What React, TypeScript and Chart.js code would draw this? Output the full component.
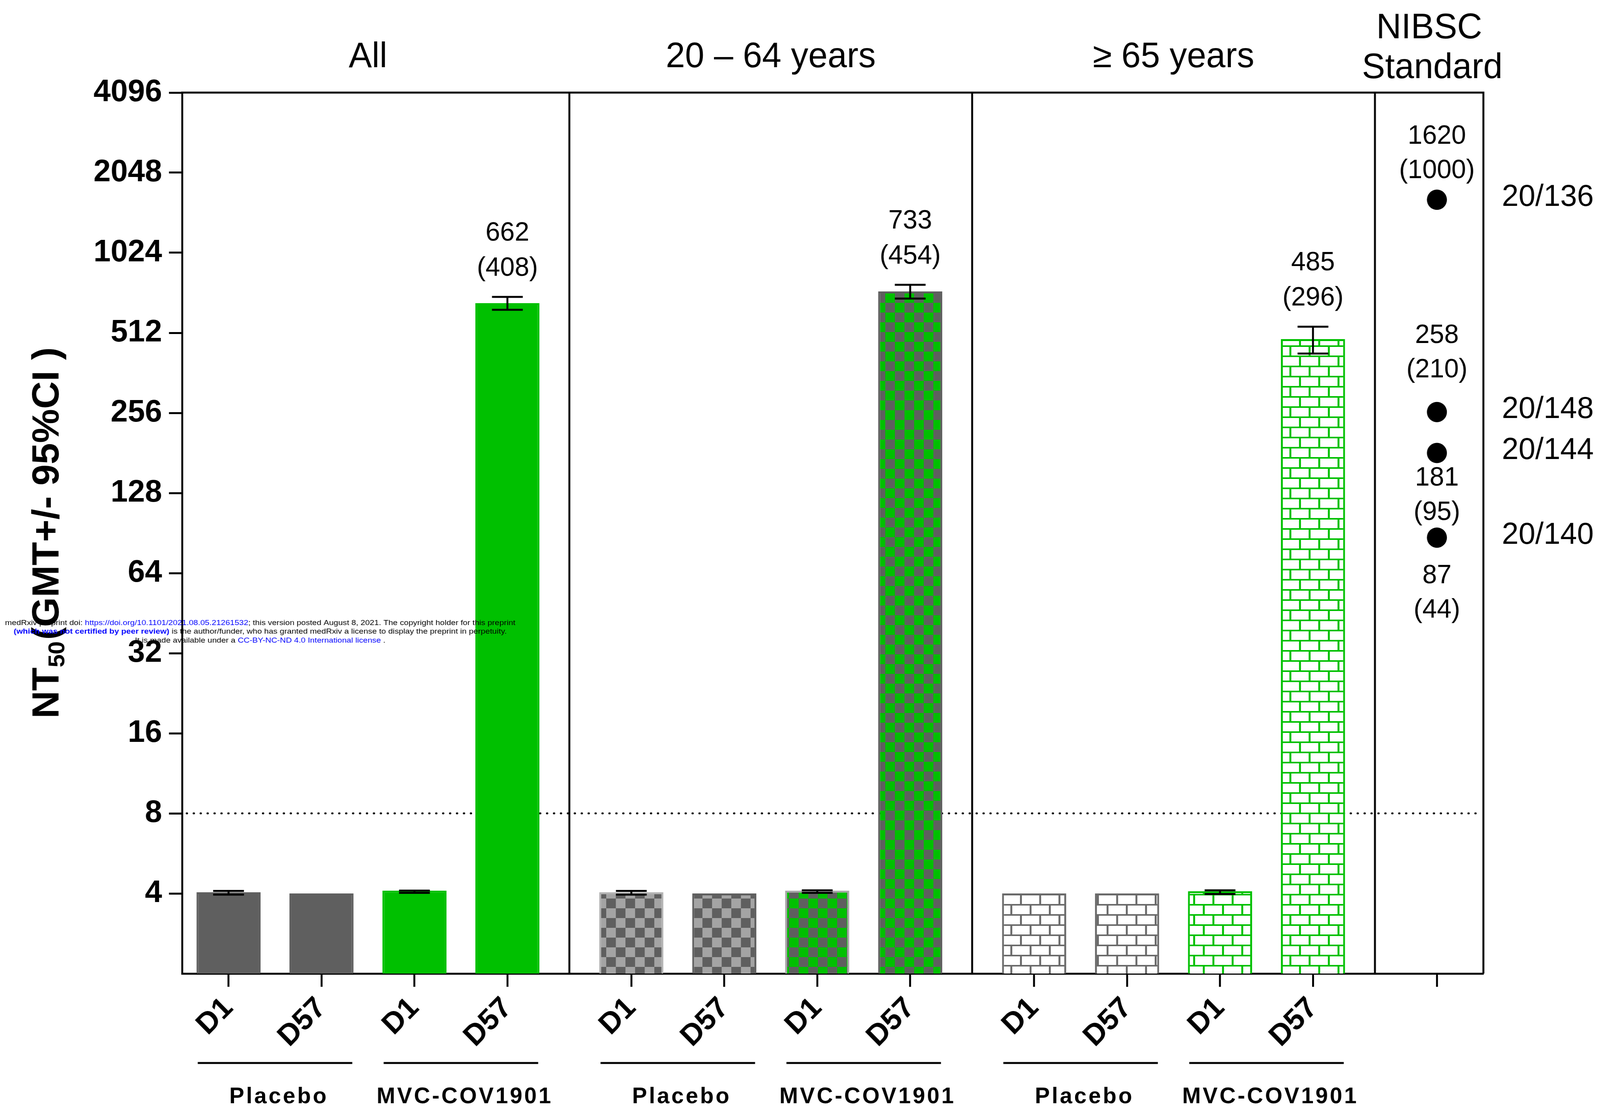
import React, { useEffect, useRef } from 'react';
import { Chart, registerables } from 'chart.js';

Chart.register(...registerables);

// ---------------- data ----------------
const GROUPS = ['All', '20 – 64 years', '≥ 65 years'];
const DAYS = ['D1', 'D57', 'D1', 'D57'];
const ARMS = ['Placebo', 'MVC-COV1901'];

const GMT_ALL = [4.04, 4.0, 4.1, 662];
const GMT_20_64 = [4.04, 4.0, 4.1, 733];
const GMT_65 = [4.0, 4.0, 4.08, 485];

const CI_LOW_ALL = [3.96, null, 4.02, 625];
const CI_HIGH_ALL = [4.09, null, 4.1, 699];
const CI_LOW_20_64 = [3.96, null, 4.02, 689];
const CI_HIGH_20_64 = [4.09, null, 4.11, 776];
const CI_LOW_65 = [null, null, 3.98, 428];
const CI_HIGH_65 = [null, null, 4.11, 540];

const D57_PAREN = ['(408)', '(454)', '(296)'];

const NIBSC_NAMES = ['20/136', '20/148', '20/144', '20/140'];
const NIBSC_VALUES = [1620, 258, 181, 87];
const NIBSC_PAREN = ['(1000)', '(210)', '(95)', '(44)'];

const Y_TICKS = [4, 8, 16, 32, 64, 128, 256, 512, 1024, 2048, 4096];
const Y_MIN = 2;
const Y_MAX = 4096;
const THRESHOLD = 8;

const Y_TITLE_MAIN = 'NT';
const Y_TITLE_SUB = '50';
const Y_TITLE_REST = '(GMT+/- 95%CI )';
const NIBSC_HEADER = ['NIBSC', 'Standard'];

const WATERMARK: [string, string, boolean][][] = [
  [
    ['medRxiv preprint doi: ', '#000', false],
    ['https://doi.org/10.1101/2021.08.05.21261532', '#0000ff', false],
    ['; this version posted August 8, 2021. The copyright holder for this preprint', '#000', false],
  ],
  [
    ['(which was not certified by peer review)', '#0000ff', true],
    [' is the author/funder, who has granted medRxiv a license to display the preprint in perpetuity.', '#000', false],
  ],
  [
    ['It is made available under a ', '#000', false],
    ['CC-BY-NC-ND 4.0 International license', '#0000ff', false],
    [' .', '#000', false],
  ],
];

// ---------------- layout / style ----------------
const W = 4157;
const H = 2849;
const L = {
  left: 473,
  right: 3854,
  top: 237,
  bottom: 2492,
  groupSpan: 13,
  barStep: 3,
  firstBar: 1.5,
  xMax: 42,
};
const FONT = '"Liberation Sans", Arial, Helvetica, sans-serif';
const GRAY = '#5f5f5f';
const LIGHT = '#a4a4a4';
const GREEN = '#00c000';
const BRICK_GRAY = '#6a6a6a';
const NIBSC_LABEL_DY = [-162, -195, 65, 98];

const xOf = (g: number, i: number) => g * L.groupSpan + L.firstBar + i * L.barStep;

const GMT = [GMT_ALL, GMT_20_64, GMT_65];
const CI_LOW = [CI_LOW_ALL, CI_LOW_20_64, CI_LOW_65];
const CI_HIGH = [CI_HIGH_ALL, CI_HIGH_20_64, CI_HIGH_65];

const BAR_X: number[] = [];
const BAR_POINTS: { x: number; y: number }[] = [];
const BAR_LOW: (number | null)[] = [];
const BAR_HIGH: (number | null)[] = [];
GROUPS.forEach((_, g) => {
  DAYS.forEach((__, i) => {
    BAR_X.push(xOf(g, i));
    BAR_POINTS.push({ x: xOf(g, i), y: GMT[g][i] });
    BAR_LOW.push(CI_LOW[g][i]);
    BAR_HIGH.push(CI_HIGH[g][i]);
  });
});
const NIBSC_X = xOf(GROUPS.length, 0);
const X_TICKS = [...BAR_X, NIBSC_X];
const X_TICK_LABELS = [...GROUPS.flatMap(() => DAYS), ''];

function checker(ctx: CanvasRenderingContext2D, a: string, b: string) {
  const s = 25;
  const t = document.createElement('canvas');
  t.width = s * 2;
  t.height = s * 2;
  const c = t.getContext('2d')!;
  c.fillStyle = a;
  c.fillRect(0, 0, s * 2, s * 2);
  c.fillStyle = b;
  c.fillRect(s, 0, s, s);
  c.fillRect(0, s, s, s);
  return ctx.createPattern(t, 'repeat')!;
}

function brick(ctx: CanvasRenderingContext2D, color: string) {
  const w = 50;
  const h = 26;
  const t = document.createElement('canvas');
  t.width = w;
  t.height = h * 2;
  const c = t.getContext('2d')!;
  c.fillStyle = '#fff';
  c.fillRect(0, 0, w, h * 2);
  c.fillStyle = color;
  c.fillRect(0, 0, w, 4);
  c.fillRect(0, 0, 5, h);
  c.fillRect(0, h, w, 4);
  c.fillRect(w / 2, h, 5, h);
  return ctx.createPattern(t, 'repeat')!;
}

function drawWatermark(ctx: CanvasRenderingContext2D) {
  const cx = 676;
  const ys = [1595, 1617, 1640];
  const widths = [1326, 1281, 651];
  WATERMARK.forEach((segs, li) => {
    let total = 0;
    const ws = segs.map(([t, , b]) => {
      ctx.font = `${b ? 'bold ' : ''}18px ${FONT}`;
      const m = ctx.measureText(t).width;
      total += m;
      return m;
    });
    const f = widths[li] / total;
    ctx.save();
    ctx.translate(cx - widths[li] / 2, ys[li]);
    ctx.scale(f, 1);
    ctx.textBaseline = 'middle';
    ctx.textAlign = 'left';
    let x = 0;
    segs.forEach(([t, col, b], i) => {
      ctx.font = `${b ? 'bold ' : ''}18px ${FONT}`;
      ctx.fillStyle = col;
      ctx.fillText(t, x, 0);
      x += ws[i];
    });
    ctx.restore();
  });
}

const overlay = {
  id: 'overlay',
  beforeDatasetsDraw(chart: any) {
    const { ctx, chartArea: a, scales } = chart;
    const yy = scales.y.getPixelForValue(THRESHOLD);
    ctx.save();
    ctx.strokeStyle = '#000';
    ctx.lineWidth = 5;
    ctx.lineCap = 'round';
    ctx.setLineDash([1, 17]);
    ctx.beginPath();
    ctx.moveTo(a.left + 12, yy);
    ctx.lineTo(a.right - 4, yy);
    ctx.stroke();
    ctx.restore();
  },
  afterDatasetsDraw(chart: any) {
    const { ctx, chartArea: a, scales } = chart;
    const xs = scales.x;
    const ys = scales.y;
    ctx.save();
    ctx.strokeStyle = '#000';
    ctx.lineWidth = 5;
    ctx.lineCap = 'butt';
    ctx.beginPath();
    ctx.moveTo(a.left - 2.5, a.top);
    ctx.lineTo(a.right + 2.5, a.top);
    ctx.moveTo(a.right, a.top);
    ctx.lineTo(a.right, a.bottom);
    for (let g = 0; g < GROUPS.length; g++) {
      const px = xs.getPixelForValue(g * L.groupSpan + L.firstBar + (DAYS.length - 1) * L.barStep + 2);
      ctx.moveTo(px, a.top);
      ctx.lineTo(px, a.bottom);
    }
    ctx.stroke();

    const meta = chart.getDatasetMeta(0);
    meta.data.forEach((el: any, i: number) => {
      const lo = BAR_LOW[i];
      const hi = BAR_HIGH[i];
      if (lo == null || hi == null) return;
      const y1 = ys.getPixelForValue(hi);
      const y2 = ys.getPixelForValue(lo);
      ctx.beginPath();
      ctx.moveTo(el.x, y1);
      ctx.lineTo(el.x, y2);
      ctx.moveTo(el.x - 40, y1);
      ctx.lineTo(el.x + 40, y1);
      ctx.moveTo(el.x - 40, y2);
      ctx.lineTo(el.x + 40, y2);
      ctx.stroke();
    });

    ctx.fillStyle = '#000';
    ctx.textAlign = 'center';
    ctx.textBaseline = 'middle';
    ctx.font = `68px ${FONT}`;
    GROUPS.forEach((_, g) => {
      const idx = g * DAYS.length + DAYS.length - 1;
      const el = meta.data[idx];
      const capY = ys.getPixelForValue(BAR_HIGH[idx] as number);
      ctx.fillText(String(GMT[g][DAYS.length - 1]), el.x, capY - 163);
      ctx.fillText(D57_PAREN[g], el.x, capY - 73);
    });

    const nx = xs.getPixelForValue(NIBSC_X);
    NIBSC_VALUES.forEach((v, i) => {
      const py = ys.getPixelForValue(v);
      const dy = NIBSC_LABEL_DY[i];
      ctx.fillText(String(v), nx, py + dy);
      ctx.fillText(NIBSC_PAREN[i], nx, py + dy + 88);
    });
    ctx.restore();
  },
  afterDraw(chart: any) {
    const { ctx, chartArea: a, scales } = chart;
    const xs = scales.x;
    const ys = scales.y;
    ctx.save();
    ctx.fillStyle = '#000';

    ctx.textAlign = 'center';
    ctx.textBaseline = 'alphabetic';
    ctx.font = `90px ${FONT}`;
    GROUPS.forEach((name, g) => {
      const mid = xs.getPixelForValue(xOf(g, (DAYS.length - 1) / 2));
      ctx.fillText(name, mid, 172);
    });
    const nx = xs.getPixelForValue(NIBSC_X);
    ctx.fillText(NIBSC_HEADER[0], nx - 20, 98);
    ctx.fillText(NIBSC_HEADER[1], nx - 12, 200);

    ctx.textAlign = 'left';
    ctx.textBaseline = 'middle';
    ctx.font = `78px ${FONT}`;
    NIBSC_NAMES.forEach((n, i) => {
      ctx.fillText(n, a.right + 48, ys.getPixelForValue(NIBSC_VALUES[i]) - 6);
    });

    ctx.strokeStyle = '#000';
    ctx.lineWidth = 5;
    GROUPS.forEach((_, g) => {
      ARMS.forEach((arm, k) => {
        const x1 = xs.getPixelForValue(xOf(g, k * 2)) - 80;
        const x2 = xs.getPixelForValue(xOf(g, k * 2 + 1)) + 80;
        ctx.beginPath();
        ctx.moveTo(x1, 2721);
        ctx.lineTo(x2, 2721);
        ctx.stroke();
        ctx.font = `bold 58px ${FONT}`;
        (ctx as any).letterSpacing = '5px';
        ctx.textAlign = 'center';
        ctx.textBaseline = 'alphabetic';
        ctx.fillText(arm, (x1 + x2) / 2 + 10, 2824);
        (ctx as any).letterSpacing = '0px';
      });
    });

    ctx.save();
    ctx.translate(152, 1839);
    ctx.rotate(-Math.PI / 2);
    ctx.textAlign = 'left';
    ctx.textBaseline = 'alphabetic';
    ctx.font = `bold 98px ${FONT}`;
    ctx.fillText(Y_TITLE_MAIN, 0, 0);
    let tx = ctx.measureText(Y_TITLE_MAIN).width;
    ctx.font = `bold 60px ${FONT}`;
    ctx.fillText(Y_TITLE_SUB, tx, 15);
    tx += ctx.measureText(Y_TITLE_SUB).width + 4;
    ctx.font = `bold 98px ${FONT}`;
    ctx.fillText(Y_TITLE_REST, tx, 0);
    ctx.restore();

    drawWatermark(ctx);
    ctx.restore();
  },
};

export default function App() {
  const ref = useRef<HTMLCanvasElement>(null);
  useEffect(() => {
    document.body.style.margin = '0';
    document.body.style.overflow = 'hidden';
    const canvas = ref.current!;
    const c2d = canvas.getContext('2d')!;

    const fills: any[] = [
      GRAY, GRAY, GREEN, GREEN,
      checker(c2d, LIGHT, GRAY), checker(c2d, LIGHT, GRAY), checker(c2d, GREEN, GRAY), checker(c2d, GREEN, GRAY),
      brick(c2d, BRICK_GRAY), brick(c2d, BRICK_GRAY), brick(c2d, GREEN), brick(c2d, GREEN),
    ];
    const borders = [
      GRAY, GRAY, GREEN, GREEN,
      '#b3b3b3', GRAY, '#a8a8a8', GRAY,
      BRICK_GRAY, BRICK_GRAY, GREEN, GREEN,
    ];

    const chart = new Chart(canvas, {
      type: 'bar',
      data: {
        datasets: [
          {
            type: 'bar',
            data: BAR_POINTS as any,
            backgroundColor: fills,
            borderColor: borders,
            borderWidth: 5,
            barPercentage: 0.69,
            categoryPercentage: 1,
          } as any,
          {
            type: 'scatter',
            data: NIBSC_VALUES.map((v) => ({ x: NIBSC_X, y: v })),
            pointRadius: 26,
            pointBackgroundColor: '#000',
            pointBorderWidth: 0,
            backgroundColor: '#000',
            borderColor: '#000',
          } as any,
        ],
      },
      options: {
        responsive: false,
        maintainAspectRatio: false,
        animation: false,
        devicePixelRatio: 1,
        events: [],
        layout: { padding: { left: 0, top: L.top, right: W - L.right, bottom: 0 } },
        plugins: { legend: { display: false }, tooltip: { enabled: false } },
        scales: {
          x: {
            type: 'linear',
            min: 0,
            max: L.xMax,
            offset: false,
            afterBuildTicks: (s: any) => {
              s.ticks = X_TICKS.map((v) => ({ value: v }));
            },
            afterFit: (s: any) => {
              s.height = H - L.bottom;
            },
            grid: {
              display: true,
              drawOnChartArea: false,
              offset: false,
              tickLength: 34,
              tickWidth: 5,
              tickColor: '#000',
            },
            border: { display: true, width: 5, color: '#000' },
            ticks: {
              autoSkip: false,
              minRotation: 45,
              maxRotation: 45,
              padding: 10,
              color: '#000',
              font: { family: FONT, size: 76, weight: 'bold' },
              callback: (_v: any, i: number) => X_TICK_LABELS[i],
            },
          },
          y: {
            type: 'logarithmic',
            min: Y_MIN,
            max: Y_MAX,
            afterBuildTicks: (s: any) => {
              s.ticks = Y_TICKS.map((v) => ({ value: v }));
            },
            afterFit: (s: any) => {
              s.width = L.left;
            },
            grid: {
              display: true,
              drawOnChartArea: false,
              tickLength: 34,
              tickWidth: 5,
              tickColor: '#000',
            },
            border: { display: true, width: 5, color: '#000' },
            ticks: {
              autoSkip: false,
              padding: 18,
              color: '#000',
              font: { family: FONT, size: 80, weight: 'bold' },
              callback: (v: any) => String(v),
            },
          },
        } as any,
      },
      plugins: [overlay as any],
    });
    return () => chart.destroy();
  }, []);

  return (
    <div style={{ position: 'fixed', left: 0, top: 0, width: '100vw', height: '100vh', background: '#fff', overflow: 'hidden' }}>
      <canvas ref={ref} width={W} height={H} style={{ display: 'block', width: '100%', height: '100%' }} />
    </div>
  );
}
